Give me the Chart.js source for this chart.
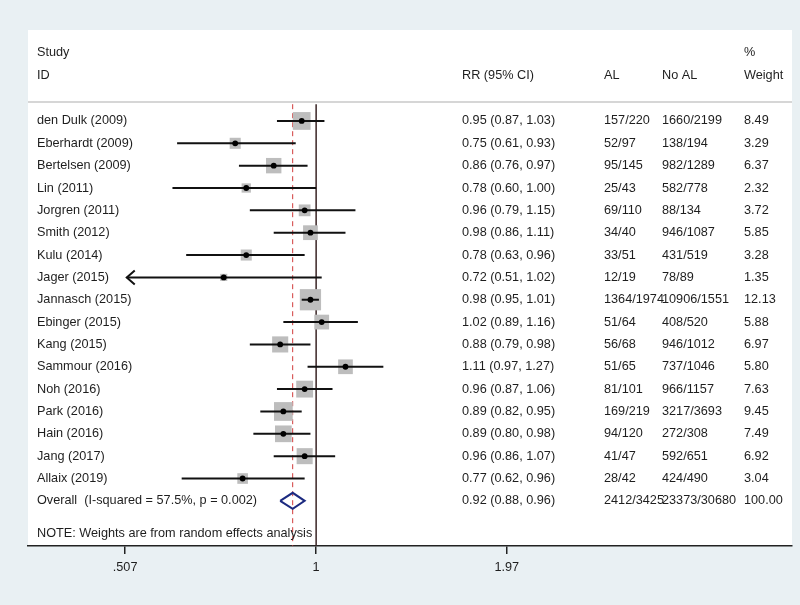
<!DOCTYPE html>
<html>
<head>
<meta charset="utf-8">
<script src="https://cdn.jsdelivr.net/npm/chart.js@4/dist/chart.umd.min.js"></script>
<style>
  html, body { margin: 0; padding: 0; background: #e9f0f3; }
  #wrap { width: 800px; height: 605px; }
</style>
</head>
<body>
<div id="wrap"><canvas id="forest" width="800" height="605"></canvas></div>
<script>
// study rows, top to bottom
const studies = ['den Dulk (2009)', 'Eberhardt (2009)', 'Bertelsen (2009)', 'Lin (2011)', 'Jorgren (2011)',
    'Smith (2012)', 'Kulu (2014)', 'Jager (2015)', 'Jannasch (2015)', 'Ebinger (2015)', 'Kang (2015)',
    'Sammour (2016)', 'Noh (2016)', 'Park (2016)', 'Hain (2016)', 'Jang (2017)', 'Allaix (2019)']
const rr = [0.95, 0.75, 0.86, 0.78, 0.96, 0.98, 0.78, 0.72, 0.98, 1.02, 0.88, 1.11, 0.96, 0.89, 0.89, 0.96, 0.77]
const lo = [0.87, 0.61, 0.76, 0.60, 0.79, 0.86, 0.63, 0.51, 0.95, 0.89, 0.79, 0.97, 0.87, 0.82, 0.80, 0.86, 0.62]
const hi = [1.03, 0.93, 0.97, 1.00, 1.15, 1.11, 0.96, 1.02, 1.01, 1.16, 0.98, 1.27, 1.06, 0.95, 0.98, 1.07, 0.96]
const al = ['157/220', '52/97', '95/145', '25/43', '69/110', '34/40', '33/51', '12/19', '1364/1974', '51/64',
    '56/68', '51/65', '81/101', '169/219', '94/120', '41/47', '28/42']
const noAl = ['1660/2199', '138/194', '982/1289', '582/778', '88/134', '946/1087', '431/519', '78/89',
    '10906/1551', '408/520', '946/1012', '737/1046', '966/1157', '3217/3693', '272/308', '592/651', '424/490']
const weight = [8.49, 3.29, 6.37, 2.32, 3.72, 5.85, 3.28, 1.35, 12.13, 5.88, 6.97, 5.80, 7.63, 9.45, 7.49, 6.92, 3.04]
// CI runs off the left edge of the axis
const arrowRows = [7]

const overallLabel = 'Overall  (I-squared = 57.5%, p = 0.002)'
const overallRR = [0.92, 0.88, 0.96]
const overallAL = '2412/3425'
const overallNoAL = '23373/30680'
const overallWeight = 100

const xTicks = [0.507, 1, 1.97]
const xTickLabels = ['.507', '1', '1.97']

const FONT = '12.7px "Liberation Sans", Arial, sans-serif'
const TEXT = '#1e1e1e'
const overallRow = studies.length
const fmt = (a, b, c) => a.toFixed(2) + ' (' + b.toFixed(2) + ', ' + c.toFixed(2) + ')'

const ciSets = studies.map((s, i) => ({
    data: [{ x: lo[i], y: i }, { x: hi[i], y: i }],
    showLine: true,
    borderColor: '#111',
    borderWidth: 2,
    pointRadius: 0
}))

const backdrop = {
    id: 'backdrop',
    beforeDraw(chart) {
        const { ctx, chartArea: a } = chart
        ctx.save()
        ctx.fillStyle = '#e9f0f3'
        ctx.fillRect(0, 0, chart.width, chart.height)
        ctx.fillStyle = '#ffffff'
        ctx.fillRect(a.left, a.top, a.right - a.left, a.bottom - a.top)
        // line under the header
        const ys = chart.scales.y.getPixelForValue(-0.85)
        ctx.strokeStyle = '#c8c8c8'
        ctx.lineWidth = 1.5
        ctx.beginPath()
        ctx.moveTo(a.left, ys)
        ctx.lineTo(a.right, ys)
        ctx.stroke()
        ctx.restore()
    }
}

const table = {
    id: 'table',
    afterDraw(chart) {
        const { ctx } = chart
        const x = chart.scales.x
        const y = chart.scales.y
        const cols = [37, 462, 604, 662, 744]
        ctx.save()
        ctx.font = FONT
        ctx.fillStyle = TEXT
        ctx.textBaseline = 'middle'
        ctx.textAlign = 'left'

        const put = (row, cells) => {
            const py = y.getPixelForValue(row)
            cells.forEach((t, c) => { if (t) ctx.fillText(t, cols[c], py) })
        }
        put(-3.05, ['Study', '', '', '', '%'])
        put(-2.02, ['ID', 'RR (95% CI)', 'AL', 'No AL', 'Weight'])
        studies.forEach((s, i) => put(i, [s, fmt(rr[i], lo[i], hi[i]), al[i], noAl[i], weight[i].toFixed(2)]))
        put(overallRow, [overallLabel, fmt(overallRR[0], overallRR[1], overallRR[2]), overallAL, overallNoAL, overallWeight.toFixed(2)])
        put(18.45, ['NOTE: Weights are from random effects analysis'])

        // arrowheads for clipped intervals
        ctx.strokeStyle = '#111'
        ctx.lineWidth = 2
        arrowRows.forEach(i => {
            const px = x.getPixelForValue(lo[i])
            const py = y.getPixelForValue(i)
            ctx.beginPath()
            ctx.moveTo(px + 8, py - 7)
            ctx.lineTo(px, py)
            ctx.lineTo(px + 8, py + 7)
            ctx.stroke()
        })
        ctx.restore()
    }
}

new Chart(document.getElementById('forest'), {
    type: 'scatter',
    data: {
        datasets: [
            {
                // point estimates
                data: rr.map((v, i) => ({ x: v, y: i })),
                pointRadius: 2.9,
                pointBackgroundColor: '#000',
                pointBorderWidth: 0
            },
            ...ciSets,
            {
                // overall diamond
                data: [
                    { x: overallRR[1], y: overallRow },
                    { x: overallRR[0], y: overallRow - 0.36 },
                    { x: overallRR[2], y: overallRow },
                    { x: overallRR[0], y: overallRow + 0.36 },
                    { x: overallRR[1], y: overallRow }
                ],
                showLine: true,
                borderColor: '#1c2a80',
                borderWidth: 2,
                pointRadius: 0
            },
            {
                // weight boxes
                data: rr.map((v, i) => ({ x: v, y: i })),
                pointStyle: 'rect',
                pointRadius: weight.map(w => 6.1 * Math.sqrt(w) / Math.SQRT2),
                pointBackgroundColor: '#bdbdbd',
                pointBorderWidth: 0
            },
            {
                // no effect line
                data: [{ x: 1, y: -0.75 }, { x: 1, y: 19.5 }],
                showLine: true,
                borderColor: '#3a2526',
                borderWidth: 1.5,
                pointRadius: 0
            },
            {
                // overall estimate line
                data: [{ x: overallRR[0], y: -0.75 }, { x: overallRR[0], y: 19.5 }],
                showLine: true,
                borderColor: '#d23c3c',
                borderWidth: 1,
                borderDash: [5, 4],
                pointRadius: 0
            }
        ]
    },
    options: {
        responsive: false,
        animation: false,
        layout: { autoPadding: false, padding: { left: 28, right: 8, top: 30, bottom: 0 } },
        plugins: {
            legend: { display: false },
            tooltip: { enabled: false }
        },
        scales: {
            x: {
                type: 'logarithmic',
                min: 0.359,
                max: 5.43,
                afterBuildTicks: axis => { axis.ticks = xTicks.map(v => ({ value: v })) },
                afterFit: axis => {
                    axis.height = 59
                    axis.paddingLeft = 0
                    axis.paddingRight = 0
                },
                ticks: {
                    autoSkip: false,
                    maxRotation: 0,
                    padding: 6,
                    color: TEXT,
                    font: { family: '"Liberation Sans", Arial, sans-serif', size: 12.7 },
                    callback: (v, i) => xTickLabels[i]
                },
                grid: { drawOnChartArea: false, drawTicks: true, tickLength: 8, color: '#222', lineWidth: 1.5 },
                border: { display: true, color: '#222', width: 1.5 }
            },
            y: {
                type: 'linear',
                display: false,
                reverse: true,
                min: -4.07,
                max: 19.02
            }
        }
    },
    plugins: [backdrop, table]
})
</script>
</body>
</html>
